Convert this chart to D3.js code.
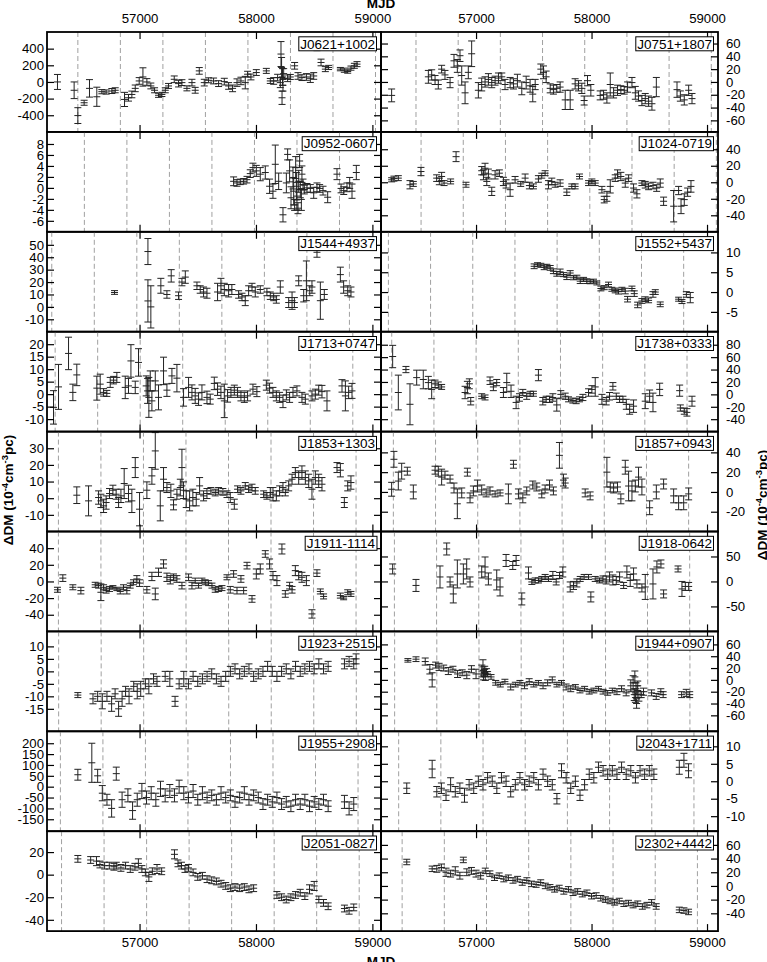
<!DOCTYPE html>
<html>
<head>
<meta charset="utf-8">
<script src="https://cdn.jsdelivr.net/npm/d3@7"></script>
<style>
  body { margin: 0; background: #fff; }
  svg { display: block; font-family: "Liberation Sans", Arial, Helvetica, sans-serif; }
</style>
</head>
<body>
<div id="chart"></div>
<script>
// [MJD, dDM (1e-4 cm^-3 pc), error]
const J0621 = [[56295,0,90],[56438,-100,100],[56470,-404,95],[56524,-250,30],[56570,-77,105],[56633,-178,115],[56676,-117,25],[56713,-121,25],[56762,-109,30],[56791,-100,30],[56871,-210,85],[56905,-190,40],[56934,-150,40],[56963,-77,40],[56997,12,40],[57029,60,110],[57063,0,40],[57097,-48,35],[57129,-100,30],[57163,-160,25],[57192,-150,25],[57221,-100,30],[57249,-48,30],[57298,32,40],[57335,-20,40],[57364,-8,35],[57407,-77,30],[57450,-8,40],[57478,-100,35],[57513,133,40],[57556,-8,40],[57593,20,30],[57636,12,35],[57679,-20,35],[57728,4,40],[57765,-48,40],[57799,-77,40],[57837,-8,45],[57871,12,45],[57908,-8,75],[57928,93,35],[57957,60,35],[58003,113,35],[58089,133,30],[58123,12,30],[58152,12,40],[58186,52,40],[58209,-8,60],[58215,335,150],[58220,174,120],[58224,-190,80],[58228,60,100],[58232,-40,70],[58238,100,60],[58272,44,40],[58295,60,30],[58332,194,40],[58361,72,40],[58395,52,35],[58433,60,40],[58467,44,50],[58496,72,40],[58524,416,40],[58559,234,40],[58596,154,30],[58624,174,25],[58725,154,20],[58759,141,25],[58788,125,20],[58816,166,25],[58845,194,30],[58868,214,30]];
const J0751 = [[56269,-21,10],[56587,8,10],[56616,11,8],[56645,3,7],[56673,-4,7],[56702,20,6],[56731,11,7],[56775,-1,8],[56809,33,10],[56838,25,10],[56861,41,9],[56876,10,15],[56905,-17,17],[56933,15,10],[56962,44,20],[57020,-13,12],[57049,-4,10],[57078,0,8],[57107,4,9],[57136,-1,8],[57165,2,7],[57194,6,8],[57223,8,6],[57251,-4,8],[57295,-1,8],[57324,-3,8],[57358,2,10],[57396,-10,10],[57434,-1,10],[57468,-6,10],[57491,-19,12],[57512,-4,8],[57561,20,8],[57584,15,10],[57607,8,9],[57642,-10,7],[57670,-12,7],[57699,-10,6],[57728,-8,8],[57772,-28,15],[57815,-28,15],[57858,-3,8],[57887,-6,8],[57916,-10,8],[57936,-29,7],[57965,2,8],[57994,-13,9],[58075,-21,7],[58104,-20,7],[58133,-25,8],[58162,-4,18],[58191,-17,8],[58225,-13,8],[58254,-12,6],[58283,-13,6],[58312,-8,8],[58350,-1,8],[58379,-17,10],[58407,-22,8],[58436,-29,8],[58465,-26,8],[58494,-30,8],[58523,-34,10],[58561,-8,15],[58740,-12,12],[58769,-22,8],[58803,-28,8],[58841,-13,8],[58870,-26,8]];
const J0952 = [[57808,1.2,0.8],[57837,0.9,0.6],[57865,1.1,0.5],[57894,1.2,0.5],[57923,1.5,0.6],[57951,2.6,0.7],[57974,3.7,0.8],[58003,3.1,1],[58037,2.5,1.2],[58080,2.8,1.2],[58117,0.3,1.3],[58146,-0.6,1.3],[58166,4.3,3.5],[58195,1.2,1.5],[58232,-4.9,1.3],[58261,0.9,1.8],[58272,6.1,1],[58289,3.1,2],[58301,-1.8,2],[58318,1.8,2],[58324,-0.6,2.5],[58332,-3.1,1],[58341,3.7,2],[58347,0.3,2.5],[58352,-1.5,2.5],[58361,-3.7,1],[58367,1.2,2],[58375,4.9,1.2],[58381,-0.3,1.5],[58390,-2.1,2],[58395,2.5,1.5],[58404,0.6,1],[58415,-0.3,0.8],[58438,0,0.8],[58467,-0.1,0.7],[58496,-0.9,1],[58524,0.1,0.8],[58547,-0.1,0.7],[58576,-0.5,0.8],[58616,-1.7,1],[58696,2.5,1],[58731,-0.1,0.8],[58754,-0.5,0.7],[58782,0.1,0.8],[58805,0.9,1],[58825,-0.6,1.3],[58862,2.8,1.3]];
const J1024 = [[56269,3,2.5],[56289,4.4,3],[56327,5,3],[56428,-3,5],[56457,-2,3],[56523,13,5],[56659,5,4],[56682,1,4],[56702,7,5],[56723,-1,3],[56780,1,3],[56827,31,6],[56913,-3,3],[57049,14,5],[57064,9,6],[57078,17,6],[57093,1,5],[57107,10,6],[57136,-11,5],[57165,9,5],[57202,11,4],[57237,1,5],[57260,-2,5],[57295,-9,8],[57338,3,4],[57387,-2,3],[57425,5,5],[57462,-4,4],[57497,-5,3],[57540,4,4],[57569,8,3],[57598,11,3],[57627,-3,5],[57656,1,4],[57685,-3,3],[57728,-1,4],[57786,-12,4],[57829,-5,3],[57858,-5,3],[57896,7,3],[57974,-1,3],[58003,1,3],[58032,-1,3],[58090,-9,4],[58110,-21,4],[58133,-17,6],[58162,-5,8],[58205,5,4],[58225,10,5],[58254,7,5],[58292,-1,5],[58321,5,4],[58364,-7,5],[58393,-14,5],[58436,-1,3],[58465,-3,4],[58494,-5,4],[58532,-4,4],[58564,-7,4],[58595,-1,5],[58624,-23,5],[58711,-29,19],[58754,-10,5],[58775,-29,9],[58803,-21,7],[58832,-12,5],[58861,-5,7]];
const J1544 = [[56785,11.6,1.5],[57072,44.6,10.5],[57072,4.8,17],[57097,0,17],[57183,17,6],[57235,10,3],[57272,25,5],[57335,9,3],[57364,20,3],[57393,24,5],[57493,17,3],[57521,14,3],[57550,12,4],[57579,11,4],[57670,12,7],[57699,17,6],[57728,14,5],[57765,13,5],[57793,14,4],[57851,10,3],[57880,8,3],[57908,5,4],[57937,13,4],[57966,16,3],[57994,12,4],[58037,14,3],[58094,12,3],[58123,9,3],[58152,8,3],[58175,6,3],[58209,16,5],[58281,3.5,4],[58310,5,7],[58330,3.5,4],[58367,21,4],[58410,9,5],[58433,21,16],[58462,13,4],[58481,16,5],[58524,44,4],[58553,5,15],[58587,10,4],[58725,26,6],[58753,16,5],[58788,13,4],[58816,12,4]];
const J1552 = [[57503,6.5,0.6],[57532,6.9,0.5],[57561,6.75,0.5],[57590,6.25,0.6],[57613,6.5,0.5],[57642,6.1,0.6],[57670,5.25,0.6],[57699,4.6,0.6],[57728,5.1,0.7],[57757,4.4,0.5],[57786,3.75,0.6],[57815,4.8,0.6],[57844,3.6,0.5],[57873,3.75,0.5],[57902,2.75,0.6],[57931,3.2,0.5],[57959,2.75,0.6],[57988,2.6,0.5],[58017,2.75,0.5],[58046,2.3,0.5],[58081,0.9,0.6],[58110,1.1,0.5],[58147,1.9,0.6],[58176,0.7,0.5],[58205,0.4,0.6],[58234,0.1,0.6],[58263,0.7,0.5],[58292,0.25,0.7],[58312,-1.8,0.7],[58350,0.9,0.6],[58370,-0.4,0.7],[58399,-3.25,0.7],[58436,-2.25,0.6],[58465,-1.8,0.6],[58494,-2.1,0.6],[58532,-0.6,0.7],[58552,0,0.6],[58595,-3.1,0.6],[58754,-1.8,0.5],[58783,-2.4,0.5],[58821,-0.6,0.7],[58855,-1.4,1.3]];
const J1713 = [[56261,-5.3,6.7],[56304,2.9,9],[56390,16.3,6.5],[56427,0.7,3.3],[56461,7.7,4.3],[56633,2.4,4.8],[56662,4,4],[56691,0.7,1.5],[56719,0.3,1.2],[56748,4.7,2],[56777,5.6,1.5],[56805,6.7,2],[56877,2.7,4.5],[56905,3.3,3],[56926,13.3,6.5],[56963,2.7,2.5],[56991,12.7,5.5],[57057,3.3,4],[57069,1.3,5],[57080,-1.3,8],[57092,5.3,4],[57106,-2.7,4],[57135,5.3,4],[57163,-1.3,5],[57206,9.3,5.5],[57235,1.6,2.5],[57278,7.3,3],[57321,6.4,5.5],[57378,-1.3,3.5],[57421,2.7,4],[57450,0.7,3],[57478,-0.7,3],[57507,-2,2.5],[57536,0.7,3],[57579,-1.3,2.5],[57607,-2,2],[57642,4.3,2.5],[57670,2,2.5],[57699,0.7,2.5],[57728,-2.7,6.7],[57756,-0.7,2.5],[57785,0.7,2],[57814,1.6,2],[57842,0.7,2],[57871,-0.7,2],[57900,-1.3,2],[57928,-0.7,2],[57974,2,2],[58008,1,2],[58089,3.6,2],[58117,2.4,2],[58146,0.7,2],[58175,-0.7,2],[58203,-1.3,2],[58232,-2.9,2.5],[58261,-0.3,2],[58289,-1.3,2],[58318,0.7,2],[58352,1.3,2],[58395,-1.3,2],[58424,-2,2],[58481,-0.7,2],[58510,0,2],[58539,1.6,2],[58567,1,2.5],[58610,-2.7,4],[58739,3.3,2.5],[58768,-0.7,6],[58796,0.7,2.5],[58825,1.3,3]];
const J1738 = [[56278,61,18],[56327,3,28],[56393,40,5],[56428,-16,33],[56486,27,12],[56543,24,15],[56587,19,10],[56616,8,15],[56645,17,6],[56673,15,5],[56702,12,4],[56905,3,10],[56925,11,10],[56942,17,8],[56954,-11,6],[57049,-3,4],[57078,-5,4],[57121,22,6],[57150,12,6],[57179,19,5],[57237,3,8],[57266,19,15],[57303,5,10],[57347,-13,10],[57376,-5,6],[57405,3,5],[57439,-3,5],[57468,1,4],[57497,1,4],[57540,31,9],[57578,-11,6],[57607,-8,5],[57636,-8,5],[57665,-5,6],[57699,-17,10],[57734,0,6],[57772,-3,5],[57801,-8,4],[57838,-10,4],[57867,-11,4],[57896,-8,4],[57925,-5,5],[57974,3,6],[58003,8,6],[58032,12,15],[58090,-8,8],[58127,-11,6],[58156,-3,6],[58185,13,6],[58214,-3,5],[58243,-8,5],[58272,-8,5],[58301,-16,8],[58330,-24,8],[58364,-19,10],[58465,-11,12],[58503,-3,10],[58532,-13,15],[58590,8,10],[58763,6,9],[58769,-22,5],[58803,-27,5],[58826,-29,6],[58870,-11,8]];
const J1853 = [[56461,1.8,5],[56562,-1.6,9],[56648,0.4,4],[56668,-1.6,4],[56691,-4.6,4],[56713,-2.6,4],[56742,2.8,3],[56771,4.8,3],[56799,2.4,3],[56820,-2.6,3],[56840,1.4,4],[56868,8.8,9],[56905,2.8,5],[56934,-1.6,7],[56963,18.4,6],[57000,-6.6,10],[57063,4.8,5],[57106,13.4,5],[57135,28.4,11],[57178,-4.6,9],[57206,11.4,7],[57235,6.4,3],[57269,4.4,4],[57292,-4,3],[57321,2.4,3],[57350,6.4,5],[57364,18.4,11],[57378,4.8,5],[57401,-0.6,5],[57430,-1.6,6],[57458,0.4,5],[57487,-0.6,4],[57516,7.4,5],[57550,1.4,3],[57579,2.8,3],[57613,4.4,2],[57650,3.4,2],[57679,4.4,2],[57716,3.8,2],[57751,2.4,2],[57779,0.4,3],[57814,-3.6,3],[57842,5.4,2],[57871,4.4,2],[57908,7.4,2],[57937,5.4,2],[57966,6.4,2],[57994,4.4,2],[58066,2.4,2],[58094,1.4,2],[58123,3.4,3],[58146,2.4,4],[58175,1.4,3],[58203,4.4,3],[58232,6.4,3],[58252,3.4,2],[58281,7.4,3],[58310,11.4,3],[58338,15.4,3],[58367,12.4,4],[58395,15.4,4],[58424,12.4,4],[58453,10.4,4],[58481,5.4,6],[58510,12.4,4],[58539,10.4,4],[58567,8.4,4],[58696,18.4,3],[58725,16.8,4],[58759,-2.6,3],[58788,7.4,3],[58816,9.4,4]];
const J1857 = [[56269,2.7,7],[56289,33,8],[56327,11,9],[56356,21,8],[56405,21,4],[56457,0,7],[56645,22,4],[56673,21,5],[56702,15,8],[56731,17,4],[56775,13,4],[56809,4,5],[56838,-12,15],[56876,-1,5],[56925,20,4],[56948,-6,5],[56977,1,5],[57012,6,6],[57049,2,5],[57087,-1,4],[57121,1,4],[57165,-2,3],[57208,-1,3],[57280,-2,10],[57324,28,4],[57367,-2,5],[57405,-6,5],[57439,1,4],[57491,7,4],[57526,5,4],[57569,-2,4],[57598,3,4],[57636,7,5],[57670,1,4],[57722,37,13],[57757,12,6],[57772,9,5],[57945,-1,4],[57988,-4,4],[58133,20,15],[58162,5,5],[58191,4,5],[58225,5,5],[58254,-7,5],[58292,25,7],[58321,6,15],[58350,1,10],[58379,6,6],[58407,15,10],[58436,5,8],[58503,-16,7],[58561,0,7],[58624,8,5],[58711,-4,7],[58754,-11,7],[58798,-11,7],[58841,-2,6]];
const J1911 = [[56295,-10,3],[56341,4,4],[56427,-7,3],[56496,-11,4],[56619,-4,3],[56648,-5,3],[56668,-13,10],[56691,-7,3],[56713,-11,3],[56742,-9,3],[56771,-7,2],[56805,-9,2],[56834,-12,3],[56862,-7,3],[56891,-11,4],[56920,-5,3],[56948,-1,3],[56977,3,4],[57000,-2,4],[57063,-10,4],[57106,6,5],[57135,-15,7],[57163,11,5],[57206,21,5],[57235,5,5],[57264,2,5],[57292,5,4],[57321,3,4],[57364,-5,4],[57421,5,4],[57450,-5,4],[57478,1,3],[57507,-5,3],[57536,1,3],[57564,-1,3],[57593,-2,3],[57622,-5,3],[57650,-10,3],[57679,-9,3],[57708,-8,3],[57751,5,3],[57779,-10,4],[57808,9,4],[57837,-11,4],[57871,3,4],[57894,-11,4],[57923,19,4],[57966,-21,4],[58003,9,6],[58037,15,6],[58080,33,4],[58117,21,6],[58146,7,5],[58180,1,6],[58223,39,6],[58252,-15,4],[58289,-5,4],[58310,-10,4],[58338,13,6],[58367,7,5],[58395,5,6],[58433,1,6],[58481,-39,5],[58524,10,4],[58553,-12,3],[58581,-18,3],[58725,-17,3],[58753,-20,2],[58788,-13,3],[58816,-15,3]];
const J1918 = [[56278,25,10],[56480,-8,12],[56688,9,22],[56746,65,12],[56775,-1,10],[56803,-25,18],[56838,15,28],[56890,15,20],[56919,25,20],[56948,-1,10],[57049,19,12],[57078,29,20],[57107,5,12],[57179,3,20],[57208,-11,18],[57260,42,12],[57318,32,8],[57347,42,10],[57396,-35,12],[57454,17,12],[57483,-1,5],[57512,2,5],[57540,2,5],[57569,5,5],[57598,9,5],[57627,5,5],[57665,12,8],[57694,-1,6],[57723,12,6],[57751,19,10],[57815,-11,10],[57844,-8,8],[57873,-3,8],[57902,5,5],[57936,9,5],[57974,9,5],[57994,-31,10],[58032,5,5],[58069,2,5],[58099,5,6],[58127,3,8],[58156,9,10],[58185,3,10],[58214,2,8],[58243,9,10],[58278,-8,6],[58306,19,12],[58335,2,12],[58364,15,12],[58393,-5,8],[58436,-13,8],[58465,-11,25],[58532,-5,30],[58566,29,12],[58601,35,8],[58624,-25,8],[58749,25,6],[58783,-15,15],[58812,-10,8],[58841,-10,8]];
const J1923 = [[56470,-9.5,1],[56600,-11,2],[56640,-10,2],[56680,-12,3],[56720,-10,2],[56760,-13,3],[56790,-9,2],[56820,-15,3],[56850,-11,3],[56880,-8,2],[56910,-10,3],[56950,-6,2],[56980,-8,3],[57010,-7,3],[57050,-5,2],[57080,-6,3],[57120,-3,2],[57150,-4,2],[57220,-2,2],[57260,-3,3],[57305,-12,2],[57340,-5,2],[57380,-3,3],[57420,-5,2],[57460,-2,2],[57500,-4,2],[57540,-3,2],[57580,-2,2],[57620,-1,2],[57660,-3,2],[57700,-4,2],[57740,-2,2],[57780,0,2],[57820,1,2],[57860,-1,2],[57900,0,2],[57940,1,2],[57980,-2,2],[58020,-1,2],[58060,0,2],[58100,2,2],[58140,0,2],[58180,-2,2],[58220,0,2],[58260,1,2],[58300,-1,2],[58340,2,2],[58380,0,2],[58420,1,2],[58460,2,2],[58500,1,2],[58540,3,2],[58580,1,2],[58620,2,2],[58760,3,2],[58800,4,2],[58840,3,2],[58860,5,2]];
const J1944 = [[56410,33,3],[56480,35,4],[56560,31,6],[56600,18,8],[56620,0,12],[56650,25,5],[56680,22,6],[56720,20,5],[56760,15,6],[56800,18,5],[56840,10,6],[56880,12,5],[56920,8,6],[56960,18,6],[57000,10,8],[57050,15,10],[57060,22,12],[57065,8,8],[57070,12,6],[57075,18,5],[57080,5,6],[57090,14,5],[57100,10,4],[57130,5,4],[57170,-5,4],[57210,-8,4],[57250,-3,4],[57300,-12,5],[57340,-8,4],[57380,-5,4],[57420,-10,5],[57460,-3,5],[57500,-8,4],[57540,-5,4],[57580,-10,5],[57620,-5,5],[57660,0,5],[57700,-8,4],[57740,-5,4],[57780,-12,5],[57820,-15,5],[57860,-12,4],[57900,-18,4],[57940,-15,4],[57980,-20,4],[58020,-18,4],[58060,-15,4],[58100,-20,4],[58140,-22,4],[58180,-18,4],[58220,-20,5],[58260,-15,5],[58300,-22,5],[58340,-10,10],[58360,-5,12],[58370,-25,10],[58375,5,10],[58380,-30,8],[58385,-15,10],[58390,-40,8],[58395,-20,10],[58400,-10,8],[58410,-30,6],[58430,-25,5],[58450,-20,6],[58520,-22,5],[58560,-28,5],[58600,-20,5],[58620,-25,5],[58780,-25,5],[58820,-22,6],[58850,-25,5]];
const J1955 = [[56470,55,25],[56590,110,90],[56640,50,30],[56680,-30,35],[56720,-60,25],[56760,-100,40],[56800,60,30],[56850,-60,35],[56900,-40,30],[56940,-110,40],[56980,-60,30],[57020,-20,35],[57060,-50,30],[57100,-30,30],[57140,-60,30],[57180,-10,35],[57220,-40,30],[57260,-20,30],[57300,-40,30],[57340,0,30],[57380,-30,30],[57420,-50,25],[57460,-20,30],[57500,-60,25],[57540,-30,30],[57580,-50,25],[57620,-40,25],[57660,-60,25],[57700,-30,30],[57740,-50,25],[57780,-40,25],[57820,-70,25],[57860,-50,25],[57900,-30,30],[57940,-60,25],[57980,-40,25],[58020,-50,25],[58060,-80,25],[58100,-60,25],[58140,-70,25],[58180,-50,25],[58220,-80,25],[58260,-70,25],[58300,-90,25],[58340,-60,25],[58380,-80,25],[58420,-60,25],[58460,-90,25],[58500,-70,25],[58540,-80,25],[58580,-60,25],[58620,-90,25],[58760,-70,30],[58800,-100,30],[58840,-80,30]];
const J2043 = [[56400,-2,1.5],[56620,3.5,2.5],[56660,-3,1.5],[56700,-2,1.5],[56740,-4,1.5],[56780,-1,2],[56820,-3,1.5],[56860,-2,1.5],[56900,-4,2],[56940,-1,1.5],[56980,-2,1.5],[57020,0,1.5],[57060,-1,1.5],[57100,1,1.5],[57140,0,1.5],[57180,-2,1.5],[57220,1,1.5],[57260,0,1.5],[57300,-3,1.5],[57340,-1,1.5],[57380,1,1.5],[57420,-1,1.5],[57460,0,1.5],[57500,1,1.5],[57540,-1,1.5],[57580,2,1.5],[57620,0,1.5],[57660,-1,1.5],[57700,-5,1.5],[57740,3,2],[57780,1,1.5],[57820,-2,1.5],[57860,0,1.5],[57900,-4,1.5],[57940,-1,1.5],[57980,2,1.5],[58020,1,1.5],[58060,4,1.5],[58100,3,1.5],[58140,2,1.5],[58180,3,1.5],[58220,2,1.5],[58260,4,1.5],[58300,2,1.5],[58340,3,1.5],[58380,1,1.5],[58420,3,1.5],[58460,2,1.5],[58500,3,1.5],[58540,2,1.5],[58760,4,2],[58800,6,2],[58840,3,2]];
const J2051 = [[56470,14,3],[56580,13,3],[56630,12,4],[56660,9,3],[56700,8,3],[56740,8,3],[56780,7,3],[56800,8,3],[56840,6,3],[56880,8,3],[56920,5,3],[56960,7,3],[56990,10,4],[57020,5,3],[57050,2,3],[57080,-2,4],[57110,3,3],[57150,5,4],[57190,3,3],[57300,18,4],[57330,10,3],[57360,8,3],[57390,5,3],[57420,6,3],[57460,2,3],[57500,-2,3],[57540,-1,3],[57580,-4,3],[57620,-5,3],[57660,-6,3],[57700,-8,3],[57740,-10,3],[57780,-12,3],[57820,-11,3],[57860,-12,3],[57900,-11,3],[57940,-13,3],[57980,-12,3],[58180,-18,3],[58220,-20,3],[58260,-22,3],[58300,-20,3],[58340,-18,3],[58380,-16,3],[58420,-19,3],[58460,-13,4],[58500,-10,4],[58540,-22,3],[58580,-25,3],[58620,-28,3],[58760,-30,3],[58800,-32,3],[58840,-29,3]];
const J2302 = [[56400,35,4],[56620,25,4],[56660,25,5],[56700,27,5],[56740,20,6],[56780,18,5],[56820,22,6],[56860,15,5],[56890,38,4],[56920,20,5],[56960,22,5],[57000,18,5],[57040,15,5],[57080,22,4],[57120,18,4],[57160,12,4],[57200,15,4],[57240,10,4],[57280,12,4],[57320,8,4],[57360,10,4],[57400,5,4],[57440,8,4],[57480,3,4],[57520,2,4],[57560,5,4],[57600,0,4],[57640,-2,4],[57680,-5,4],[57720,-3,4],[57760,-8,4],[57800,-5,4],[57840,-10,4],[57880,-8,4],[57920,-12,4],[57960,-10,4],[58000,-15,4],[58040,-14,4],[58080,-18,4],[58120,-20,4],[58160,-22,4],[58200,-24,4],[58240,-22,4],[58280,-26,4],[58320,-25,4],[58360,-28,4],[58400,-26,4],[58440,-30,4],[58480,-28,4],[58520,-24,4],[58560,-30,4],[58760,-35,4],[58800,-36,4],[58840,-38,4]];

const names = ["J0621+1002","J0751+1807","J0952-0607","J1024-0719","J1544+4937","J1552+5437",
               "J1713+0747","J1738+0333","J1853+1303","J1857+0943","J1911-1114","J1918-0642",
               "J1923+2515","J1944+0907","J1955+2908","J2043+1711","J2051-0827","J2302+4442"];
const series = [J0621,J0751,J0952,J1024,J1544,J1552,J1713,J1738,J1853,J1857,J1911,J1918,
                J1923,J1944,J1955,J2043,J2051,J2302];
const yDomains = [[-600,600],[-78,78],[-8,10.2],[-60,61],[-20,60.5],[-10,15.2],
                  [-15,25],[-60,101],[-20,40],[-40,61],[-60,60],[-100,100],
                  [-24,16],[-87,82],[-205,255],[-14.3,14.3],[-50,38.5],[-66,80]];
const yTicks = [[-400,-200,0,200,400],[-60,-40,-20,0,20,40,60],[-6,-4,-2,0,2,4,6,8],[-40,-20,0,20,40],
                [-10,0,10,20,30,40,50],[-5,0,5,10],[-10,-5,0,5,10,15,20],[-40,-20,0,20,40,60,80],
                [-10,0,10,20,30],[-20,0,20,40],[-40,-20,0,20,40],[-50,0,50],
                [-15,-10,-5,0,5,10],[-60,-40,-20,0,20,40,60],[-150,-100,-50,0,50,100,150,200],[-10,-5,0,5,10],
                [-40,-20,0,20],[-40,-20,0,20,40,60]];
// first yearly marker per pulsar (dashed lines repeat every year)
const firstMarks = [56470,56480,56526,56524,56246,56241,56275,56270,56303,56284,56303,56293,
                    56305,56295,56320,56330,56330,56360];
const mjdTicks = [57000,58000,59000];

const W = 767, H = 962;
const top0 = 32, rowH = 99.9;
const colRange = [[47,381],[381,718]];
const colDomain = [[56205,59074],[56177,59095]];
const fontSize = 13.2;

const svg = d3.select("#chart").append("svg").attr("width", W).attr("height", H);
svg.append("rect").attr("width", W).attr("height", H).attr("fill", "#fff");

const fmt = d => String(d);

series.forEach((data, i) => {
    const col = i % 2, row = Math.floor(i / 2);
    const x = d3.scaleLinear().domain(colDomain[col]).range(colRange[col]);
    const yTop = top0 + row * rowH, yBot = yTop + rowH;
    const y = d3.scaleLinear().domain(yDomains[i]).range([yBot, yTop]);
    const [x0, x1] = colRange[col];

    const g = svg.append("g");
    g.append("clipPath").attr("id", "clip" + i)
        .append("rect").attr("x", x0).attr("y", yTop).attr("width", x1 - x0).attr("height", rowH);
    const inner = g.append("g").attr("clip-path", "url(#clip" + i + ")");

    // yearly dashed markers
    const marks = d3.range(firstMarks[i], colDomain[col][1], 365.25);
    inner.selectAll(".mark").data(marks).enter().append("line")
        .attr("x1", d => x(d)).attr("x2", d => x(d))
        .attr("y1", yTop).attr("y2", yBot)
        .attr("stroke", "#a0a0a0").attr("stroke-width", 1).attr("stroke-dasharray", "5,3");

    // error bars with + marker
    const c = 3.5;
    inner.selectAll(".pt").data(data).enter().append("path")
        .attr("d", d => {
            const px = x(d[0]), yc = y(d[1]), yl = y(d[1] - d[2]), yh = y(d[1] + d[2]);
            return "M" + (px - c) + "," + yl + "H" + (px + c) +
                   "M" + px + "," + yl + "V" + yh +
                   "M" + (px - c) + "," + yh + "H" + (px + c) +
                   "M" + (px - c) + "," + yc + "H" + (px + c);
        })
        .attr("fill", "none").attr("stroke", "#222").attr("stroke-width", 1);

    // mirrored inward ticks
    const tk = 7;
    const topAx = g.append("g").attr("transform", "translate(0," + yTop + ")")
        .call(d3.axisTop(x).tickValues(mjdTicks).tickSizeInner(-tk).tickSizeOuter(0)
              .tickPadding(9).tickFormat(row === 0 ? fmt : ""));
    const botAx = g.append("g").attr("transform", "translate(0," + yBot + ")")
        .call(d3.axisBottom(x).tickValues(mjdTicks).tickSizeInner(-tk).tickSizeOuter(0)
              .tickPadding(6.5).tickFormat(row === 8 ? fmt : ""));
    const leftAx = g.append("g").attr("transform", "translate(" + x0 + ",0)")
        .call(d3.axisLeft(y).tickValues(yTicks[i]).tickSizeInner(-tk).tickSizeOuter(0)
              .tickPadding(3).tickFormat(col === 0 ? fmt : ""));
    const rightAx = g.append("g").attr("transform", "translate(" + x1 + ",0)")
        .call(d3.axisRight(y).tickValues(yTicks[i]).tickSizeInner(-tk).tickSizeOuter(0)
              .tickPadding(8).tickFormat(col === 1 ? fmt : ""));
    [topAx, botAx, leftAx, rightAx].forEach(a => {
        a.select(".domain").remove();
        a.selectAll("line").attr("stroke", "#000").attr("stroke-width", 1.2);
        a.selectAll("text").attr("fill", "#000").attr("font-size", fontSize)
            .attr("font-family", "\"Liberation Sans\", Arial, Helvetica, sans-serif");
    });

    // frame
    g.append("rect").attr("x", x0).attr("y", yTop).attr("width", x1 - x0).attr("height", rowH)
        .attr("fill", "none").attr("stroke", "#000").attr("stroke-width", 1.8);

    // name box
    const lab = g.append("g");
    const t = lab.append("text").attr("x", x1 - 6).attr("y", yTop + 16.5)
        .attr("text-anchor", "end").attr("font-size", 13.5).attr("fill", "#000").text(names[i]);
    const bb = t.node().getBBox();
    lab.insert("rect", "text").attr("x", bb.x - 1.5).attr("y", yTop + 4.8)
        .attr("width", bb.width + 3).attr("height", 14)
        .attr("fill", "#fff").attr("stroke", "#000").attr("stroke-width", 1);
});

// axis titles
svg.append("text").attr("x", 381).attr("y", 8).attr("text-anchor", "middle")
    .attr("font-weight", "bold").attr("font-size", 13.5).text("MJD");
svg.append("text").attr("x", 381).attr("y", 966).attr("text-anchor", "middle")
    .attr("font-weight", "bold").attr("font-size", 13.5).text("MJD");

function dmTitle(xPos, yPos) {
    const t = svg.append("text")
        .attr("transform", "translate(" + xPos + "," + yPos + ") rotate(-90)")
        .attr("text-anchor", "middle").attr("font-weight", "bold").attr("font-size", 13.5);
    t.append("tspan").text("\u0394DM (10");
    t.append("tspan").attr("baseline-shift", "super").attr("font-size", 9.5).text("-4");
    t.append("tspan").text("cm");
    t.append("tspan").attr("baseline-shift", "super").attr("font-size", 9.5).text("-3");
    t.append("tspan").text("pc)");
}
dmTitle(13, 490);
dmTitle(767, 505);
</script>
